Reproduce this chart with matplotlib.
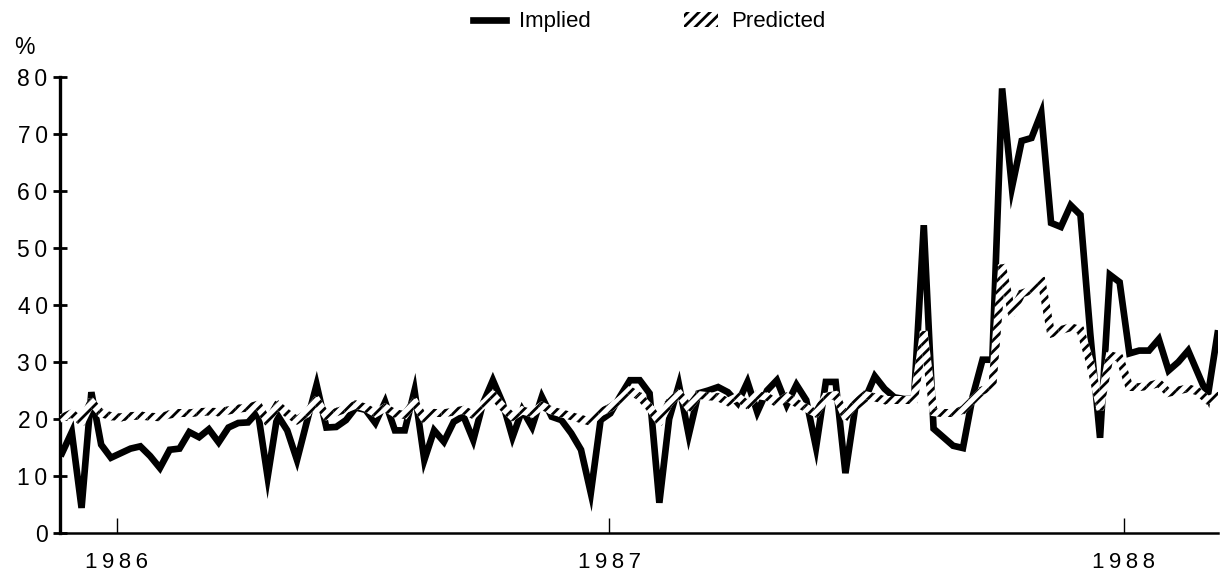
import numpy as np
import matplotlib
matplotlib.use("Agg")
import matplotlib.pyplot as plt
from matplotlib.collections import PolyCollection
from matplotlib.lines import Line2D
from matplotlib.patches import Patch

plt.rcParams['font.family'] = ['Liberation Sans', 'DejaVu Sans']
plt.rcParams['hatch.linewidth'] = 2.0

# data (weekly observations, late 1985 - early 1988), in %
implied = [
    14, 17.7, 4.4, 24.7, 15.5, 13.2, 14, 14.8, 15.2, 13.5,
    11.4, 14.6, 14.8, 17.7, 16.8, 18.2, 15.9, 18.5, 19.3, 19.4,
    21.3, 9.8, 20.7, 18, 12.8, 19.5, 26, 18.5, 18.6, 19.8,
    22, 21.6, 19.3, 23, 18, 18, 25, 12.8, 18, 16,
    19.5, 20.5, 16.3, 22.8, 26.8, 22.8, 16.8, 21.6, 18.6, 23.9,
    20.4, 19.8, 17.5, 14.6, 7, 19.8, 21, 24, 26.8, 26.8,
    24.5, 5.3, 20, 26, 17.2, 24.5, 25, 25.6, 24.7, 22.8,
    26.5, 21.2, 25, 26.8, 22.5, 26, 23.3, 15, 26.5, 26.5,
    10.5, 22, 23.5, 27.5, 25.3, 23.8, 23.5, 23.5, 54, 18.3,
    16.8, 15.3, 14.9, 24, 30.4, 30.4, 78, 60.6, 68.8, 69.3,
    73.7, 54.4, 53.7, 57.5, 55.8, 35, 16.7, 45.3, 44, 31.5,
    32, 32, 34, 28.5, 30, 32, 28, 24, 35,
]
predicted = [
    20.2, 21, 19.5, 23, 21, 20.5, 20.3, 20.5, 20.6, 20.4,
    20.3, 20.8, 21, 21, 21.2, 21.3, 21.2, 21.5, 21.8, 22,
    22.5, 19.5, 22.5, 21, 19.8, 21, 23.3, 20.5, 21.2, 21.8,
    22.5, 22, 21, 22, 21, 20.7, 23, 20, 21, 21,
    21.3, 21.6, 20.7, 22.5, 24.2, 22.1, 20.4, 21.5, 21, 22.3,
    21.5, 21, 20.5, 20, 19.5, 21.2, 22, 23.3, 25, 23.9,
    22, 19.5, 22.8, 24.5, 22, 24.2, 24, 23.8, 23, 23.9,
    22.5, 24.2, 23.9, 22.8, 23.9, 22.8, 21.9, 21, 23.9, 24.2,
    20.4, 22.8, 24.2, 23.8, 23.3, 23.3, 23.3, 23.3, 35, 21.2,
    21, 21, 21.6, 23.3, 25, 25.6, 46.7, 38.6, 42, 42.6,
    44.4, 35, 35.6, 36.1, 35.6, 29.8, 22, 31.2, 30.7, 25.6,
    25.6, 25.8, 26.3, 24.6, 25, 25.4, 24.8, 23.3, 24,
]
weeks = np.arange(len(implied))

# year boundaries on the week axis
year_pos = [5.6, 55.9, 108.4]
year_labels = ["1986", "1987", "1988"]
y_ticks = list(range(0, 81, 10))


def spaced(s):
    # the original print uses wide letter spacing
    return "\u2009".join(s)


def hatched_line(ax, x, y, width_px):
    # draw a wide line as hatched quads so the stripes look like the print
    pts = ax.transData.transform(np.column_stack([x, y]))
    inv = ax.transData.inverted()
    h = width_px / 2
    polys = []
    for p0, p1 in zip(pts[:-1], pts[1:]):
        d = p1 - p0
        u = d / np.hypot(*d)
        n = np.array([-u[1], u[0]]) * h
        t = u * h * 0.6
        quad = [p0 - t + n, p1 + t + n, p1 + t - n, p0 - t - n]
        polys.append(inv.transform(quad))
    pc = PolyCollection(polys, facecolor='white', edgecolor='black',
                        linewidth=0, hatch='///', zorder=3)
    ax.add_collection(pc)


fig = plt.figure(figsize=(12.2, 5.76), dpi=100)
ax = fig.add_axes([0.0492, 0.0747, 0.9488, 0.7916])

ax.set_xlim(-0.2, len(implied) - 1)
ax.set_ylim(0, 80)

# implied line
ax.plot(weeks, implied, color='black', linewidth=4.8,
        solid_joinstyle='miter', zorder=2)

# predicted line (hatched band)
hatched_line(ax, weeks, predicted, 8)

# axes
ax.spines['top'].set_visible(False)
ax.spines['right'].set_visible(False)
ax.spines['left'].set_linewidth(2.4)
ax.spines['bottom'].set_linewidth(1.8)

ax.set_yticks(y_ticks, [spaced(str(v)) for v in y_ticks])
ax.tick_params(axis='y', direction='inout', length=10, width=2,
               labelsize=16.5, pad=4)
ax.set_xticks(year_pos, [spaced(s) for s in year_labels])
ax.tick_params(axis='x', direction='in', length=11, width=1,
               labelsize=16, pad=14)

ax.text(-0.04, 1.05, "%", transform=ax.transAxes, fontsize=16.5)

# legend
handles = [
    Line2D([0], [0], color='black', linewidth=4.8),
    Patch(facecolor='white', edgecolor='black', linewidth=0, hatch='///'),
]
fig.legend(handles, ["Implied", "Predicted"], loc='center',
           bbox_to_anchor=(0.532, 0.962), ncol=2, frameon=False,
           fontsize=16, handlelength=1.5, handletextpad=0.6,
           columnspacing=4.2)

fig.savefig("out.png", dpi=100)
